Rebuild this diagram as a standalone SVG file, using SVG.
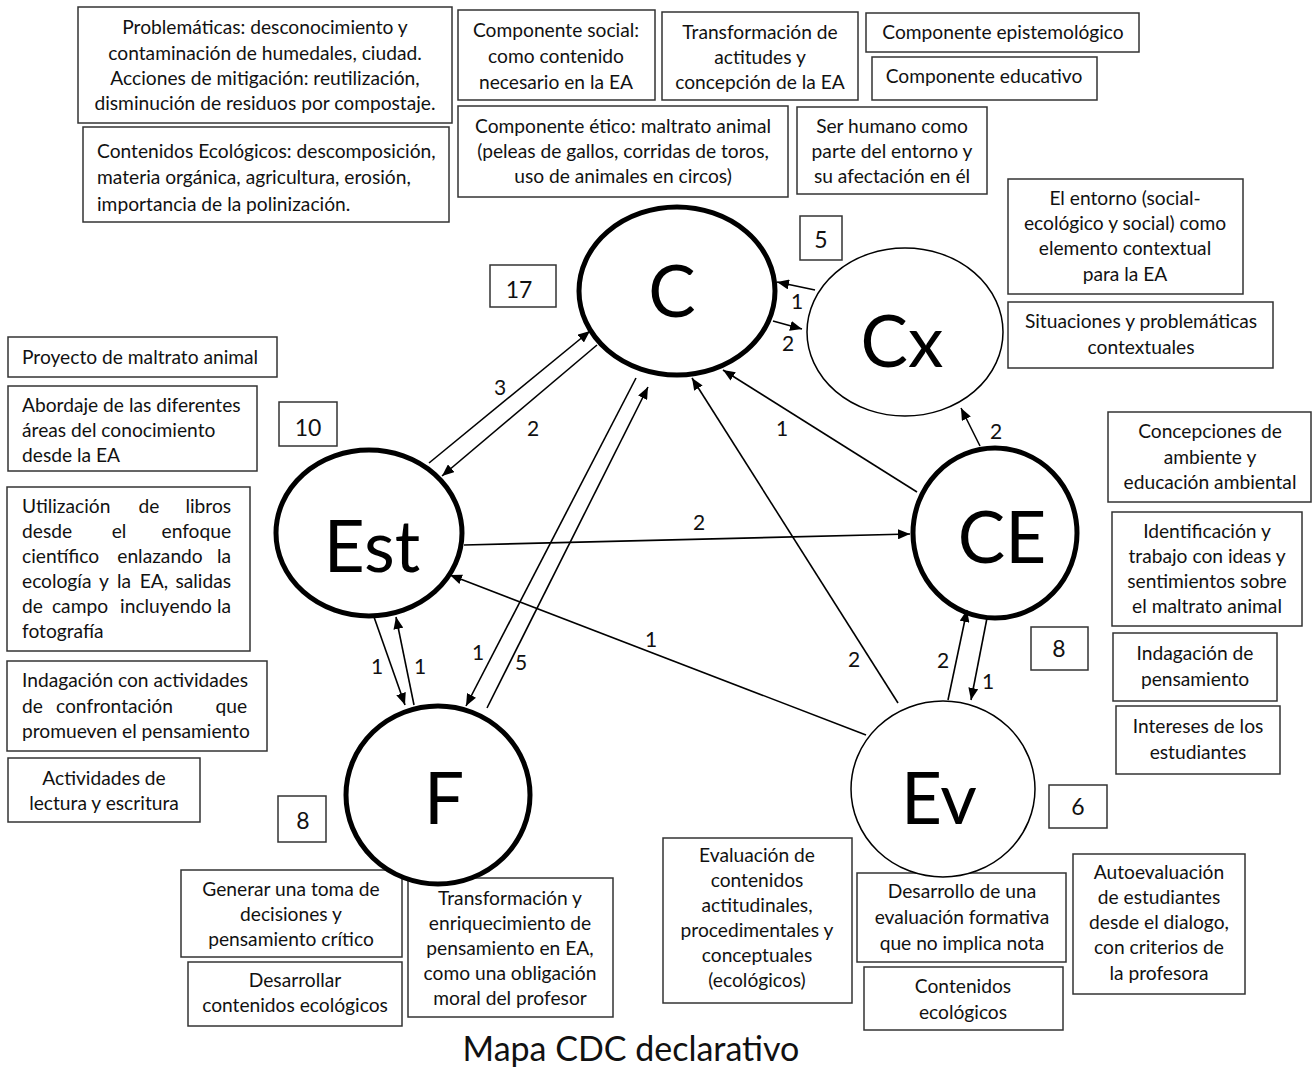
<svg xmlns="http://www.w3.org/2000/svg" width="1312" height="1067" viewBox="0 0 1312 1067">
<style>
.bx{fill:#fff;stroke:#333;stroke-width:1.5}
.t{font-family:Lato,"Liberation Sans",sans-serif;font-size:19.2px;fill:#111}
.c{text-anchor:middle}
.n{font-family:Lato,"Liberation Sans",sans-serif;font-size:23px;fill:#111;text-anchor:middle}
.el{font-family:Lato,"Liberation Sans",sans-serif;font-size:21px;fill:#111;text-anchor:middle}
.big{font-family:Lato,"Liberation Sans",sans-serif;font-size:71px;fill:#000;text-anchor:middle}
.thick{fill:#fff;stroke:#000;stroke-width:5}
.thin{fill:#fff;stroke:#000;stroke-width:1.5}
.ln{stroke:#000;stroke-width:1.6;fill:none;marker-end:url(#ah)}
</style>
<defs>
<marker id="ah" viewBox="0 0 12 10" refX="12" refY="5" markerWidth="12" markerHeight="10" markerUnits="userSpaceOnUse" orient="auto"><path d="M0,0 L12,5 L0,10 z" fill="#000"/></marker>
</defs>
<rect width="1312" height="1067" fill="#fff"/>

<!-- Top boxes -->
<g id="box-problematicas"><rect class="bx" x="78" y="7" width="374" height="116"/>
<text class="t c" x="265"><tspan x="265" y="34">Problemáticas: desconocimiento y</tspan><tspan x="265" y="60">contaminación de humedales, ciudad.</tspan><tspan x="265" y="85">Acciones de mitigación: reutilización,</tspan><tspan x="265" y="110">disminución de residuos por compostaje.</tspan></text></g>
<g id="box-contenidos-ecologicos"><rect class="bx" x="83" y="127" width="366" height="95"/>
<text class="t"><tspan x="97" y="158">Contenidos Ecológicos: descomposición,</tspan><tspan x="97" y="184">materia orgánica, agricultura, erosión,</tspan><tspan x="97" y="211">importancia de la polinización.</tspan></text></g>
<g id="box-social"><rect class="bx" x="458" y="10" width="197" height="90"/>
<text class="t c"><tspan x="556" y="37">Componente social:</tspan><tspan x="556" y="63">como contenido</tspan><tspan x="556" y="89">necesario en la EA</tspan></text></g>
<g id="box-transformacion-actitudes"><rect class="bx" x="662" y="12" width="196" height="88"/>
<text class="t c"><tspan x="760" y="39">Transformación de</tspan><tspan x="760" y="64">actitudes y</tspan><tspan x="760" y="89">concepción de la EA</tspan></text></g>
<g id="box-epistemologico"><rect class="bx" x="866" y="13" width="273" height="39"/>
<text class="t c" x="1003" y="39">Componente epistemológico</text></g>
<g id="box-educativo"><rect class="bx" x="872" y="57" width="225" height="43"/>
<text class="t c" x="984" y="83">Componente educativo</text></g>
<g id="box-etico"><rect class="bx" x="458" y="106" width="330" height="91"/>
<text class="t c"><tspan x="623" y="133">Componente ético: maltrato animal</tspan><tspan x="623" y="158">(peleas de gallos, corridas de toros,</tspan><tspan x="623" y="183">uso de animales en circos)</tspan></text></g>
<g id="box-ser-humano"><rect class="bx" x="797" y="107" width="190" height="87"/>
<text class="t c"><tspan x="892" y="133">Ser humano como</tspan><tspan x="892" y="158">parte del entorno y</tspan><tspan x="892" y="183">su afectación en él</tspan></text></g>
<g id="box-entorno"><rect class="bx" x="1008" y="179" width="235" height="115"/>
<text class="t c"><tspan x="1125" y="205">El entorno (social-</tspan><tspan x="1125" y="230">ecológico y social) como</tspan><tspan x="1125" y="255">elemento contextual</tspan><tspan x="1125" y="281">para la EA</tspan></text></g>
<g id="box-situaciones"><rect class="bx" x="1008" y="302" width="265" height="66"/>
<text class="t c"><tspan x="1141" y="328">Situaciones y problemáticas</tspan><tspan x="1141" y="354">contextuales</tspan></text></g>

<!-- Left boxes -->
<g id="box-proyecto"><rect class="bx" x="8" y="337" width="269" height="40"/>
<text class="t" x="22" y="364">Proyecto de maltrato animal</text></g>
<g id="box-abordaje"><rect class="bx" x="8" y="386" width="249" height="85"/>
<text class="t"><tspan x="22" y="412">Abordaje de las diferentes</tspan><tspan x="22" y="437">áreas del conocimiento</tspan><tspan x="22" y="462">desde la EA</tspan></text></g>
<g id="box-utilizacion"><rect class="bx" x="7" y="487" width="243" height="164"/>
<text class="t">
<tspan x="22" y="513">Utilización</tspan><tspan x="149" y="513" text-anchor="middle">de</tspan><tspan x="236" y="513" text-anchor="end">libros</tspan>
<tspan x="22" y="538">desde</tspan><tspan x="119" y="538" text-anchor="middle">el</tspan><tspan x="236" y="538" text-anchor="end">enfoque</tspan>
<tspan x="22" y="563">científico</tspan><tspan x="160" y="563" text-anchor="middle">enlazando</tspan><tspan x="236" y="563" text-anchor="end">la</tspan>
<tspan x="22" y="588">ecología</tspan><tspan x="104" y="588" text-anchor="middle">y</tspan><tspan x="124" y="588" text-anchor="middle">la</tspan><tspan x="154" y="588" text-anchor="middle">EA,</tspan><tspan x="236" y="588" text-anchor="end">salidas</tspan>
<tspan x="22" y="613">de</tspan><tspan x="80" y="613" text-anchor="middle">campo</tspan><tspan x="166" y="613" text-anchor="middle">incluyendo</tspan><tspan x="236" y="613" text-anchor="end">la</tspan>
<tspan x="22" y="638">fotografía</tspan>
</text></g>
<g id="box-indagacion-confrontacion"><rect class="bx" x="7" y="661" width="260" height="90"/>
<text class="t">
<tspan x="22" y="687">Indagación con actividades</tspan>
<tspan x="22" y="713">de</tspan><tspan x="56" y="713">confrontación</tspan><tspan x="252" y="713" text-anchor="end">que</tspan>
<tspan x="22" y="738">promueven el pensamiento</tspan>
</text></g>
<g id="box-lectura"><rect class="bx" x="8" y="758" width="192" height="64"/>
<text class="t c"><tspan x="104" y="785">Actividades de</tspan><tspan x="104" y="810">lectura y escritura</tspan></text></g>

<!-- Right boxes -->
<g id="box-concepciones"><rect class="bx" x="1108" y="412" width="203" height="90"/>
<text class="t c"><tspan x="1210" y="438">Concepciones de</tspan><tspan x="1210" y="464">ambiente y</tspan><tspan x="1210" y="489">educación ambiental</tspan></text></g>
<g id="box-identificacion"><rect class="bx" x="1112" y="512" width="190" height="114"/>
<text class="t c"><tspan x="1207" y="538">Identificación y</tspan><tspan x="1207" y="563">trabajo con ideas y</tspan><tspan x="1207" y="588">sentimientos sobre</tspan><tspan x="1207" y="613">el maltrato animal</tspan></text></g>
<g id="box-indagacion-pensamiento"><rect class="bx" x="1113" y="633" width="164" height="68"/>
<text class="t c"><tspan x="1195" y="660">Indagación de</tspan><tspan x="1195" y="686">pensamiento</tspan></text></g>
<g id="box-intereses"><rect class="bx" x="1116" y="706" width="164" height="68"/>
<text class="t c"><tspan x="1198" y="733">Intereses de los</tspan><tspan x="1198" y="759">estudiantes</tspan></text></g>

<!-- Bottom boxes -->
<g id="box-generar"><rect class="bx" x="181" y="870" width="221" height="87"/>
<text class="t c"><tspan x="291" y="896">Generar una toma de</tspan><tspan x="291" y="921">decisiones y</tspan><tspan x="291" y="946">pensamiento crítico</tspan></text></g>
<g id="box-desarrollar"><rect class="bx" x="188" y="962" width="214" height="64"/>
<text class="t c"><tspan x="295" y="987">Desarrollar</tspan><tspan x="295" y="1012">contenidos ecológicos</tspan></text></g>
<g id="box-transformacion-pensamiento"><rect class="bx" x="408" y="878" width="205" height="139"/>
<text class="t c"><tspan x="510" y="905">Transformación y</tspan><tspan x="510" y="930">enriquecimiento de</tspan><tspan x="510" y="955">pensamiento en EA,</tspan><tspan x="510" y="980">como una obligación</tspan><tspan x="510" y="1005">moral del profesor</tspan></text></g>
<g id="box-evaluacion-contenidos"><rect class="bx" x="663" y="838" width="189" height="165"/>
<text class="t c"><tspan x="757" y="862">Evaluación de</tspan><tspan x="757" y="887">contenidos</tspan><tspan x="757" y="912">actitudinales,</tspan><tspan x="757" y="937">procedimentales y</tspan><tspan x="757" y="962">conceptuales</tspan><tspan x="757" y="987">(ecológicos)</tspan></text></g>
<g id="box-evaluacion-formativa"><rect class="bx" x="857" y="873" width="209" height="89"/>
<text class="t c"><tspan x="962" y="898">Desarrollo de una</tspan><tspan x="962" y="924">evaluación formativa</tspan><tspan x="962" y="950">que no implica nota</tspan></text></g>
<g id="box-contenidos-ecologicos-ev"><rect class="bx" x="864" y="967" width="199" height="63"/>
<text class="t c"><tspan x="963" y="993">Contenidos</tspan><tspan x="963" y="1019">ecológicos</tspan></text></g>
<g id="box-autoevaluacion"><rect class="bx" x="1073" y="854" width="172" height="140"/>
<text class="t c"><tspan x="1159" y="879">Autoevaluación</tspan><tspan x="1159" y="904">de estudiantes</tspan><tspan x="1159" y="929">desde el dialogo,</tspan><tspan x="1159" y="954">con criterios de</tspan><tspan x="1159" y="980">la profesora</tspan></text></g>

<!-- Count boxes -->
<g id="count-C"><rect class="bx" x="490" y="265" width="66" height="42"/><text class="n" x="519" y="298">17</text></g>
<g id="count-Cx"><rect class="bx" x="800" y="216" width="42" height="44"/><text class="n" x="821" y="248">5</text></g>
<g id="count-Est"><rect class="bx" x="279" y="402" width="58" height="44"/><text class="n" x="308" y="436">10</text></g>
<g id="count-F"><rect class="bx" x="278" y="796" width="48" height="46"/><text class="n" x="303" y="829">8</text></g>
<g id="count-CE"><rect class="bx" x="1031" y="627" width="57" height="43"/><text class="n" x="1059" y="657">8</text></g>
<g id="count-Ev"><rect class="bx" x="1049" y="785" width="58" height="43"/><text class="n" x="1078" y="815">6</text></g>

<!-- Nodes -->
<g id="node-C"><ellipse class="thick" cx="677" cy="291" rx="98" ry="84"/><text class="big" x="672" y="317">C</text></g>
<g id="node-Cx"><ellipse class="thin" cx="905" cy="332" rx="98" ry="84"/><text class="big" x="902" y="367">Cx</text></g>
<g id="node-Est"><ellipse class="thick" cx="369" cy="533" rx="93" ry="83"/><text class="big" x="372" y="572">Est</text></g>
<g id="node-CE"><ellipse class="thick" cx="995" cy="533" rx="82" ry="85"/><text class="big" x="1002" y="563">CE</text></g>
<g id="node-F"><ellipse class="thick" cx="438" cy="795" rx="92" ry="89"/><text class="big" x="444" y="824">F</text></g>
<g id="node-Ev"><ellipse class="thin" cx="943" cy="789" rx="92" ry="88"/><text class="big" x="939" y="824">Ev</text></g>

<!-- Connectors -->
<g id="connectors">
<line class="ln" x1="429" y1="463" x2="590" y2="331"/>
<line class="ln" x1="597" y1="345" x2="442" y2="476"/>
<line class="ln" x1="636" y1="378" x2="466" y2="706"/>
<line class="ln" x1="487" y1="708" x2="648" y2="387"/>
<line class="ln" x1="815" y1="290" x2="777" y2="282"/>
<line class="ln" x1="773" y1="321" x2="802" y2="329"/>
<line class="ln" x1="917" y1="492" x2="723" y2="370"/>
<line class="ln" x1="898" y1="703" x2="692" y2="378"/>
<line class="ln" x1="464" y1="545" x2="910" y2="534"/>
<line class="ln" x1="866" y1="735" x2="450" y2="575"/>
<line class="ln" x1="374" y1="617" x2="405" y2="705"/>
<line class="ln" x1="414" y1="705" x2="396" y2="617"/>
<line class="ln" x1="980" y1="446" x2="961" y2="408"/>
<line class="ln" x1="948" y1="700" x2="967" y2="610"/>
<line class="ln" x1="987" y1="618" x2="971" y2="700"/>
</g>
<g id="connector-labels">
<text class="el" x="500" y="395">3</text>
<text class="el" x="533" y="436">2</text>
<text class="el" x="478" y="660">1</text>
<text class="el" x="521" y="670">5</text>
<text class="el" x="797" y="309">1</text>
<text class="el" x="788" y="351">2</text>
<text class="el" x="782" y="436">1</text>
<text class="el" x="854" y="667">2</text>
<text class="el" x="699" y="530">2</text>
<text class="el" x="651" y="647">1</text>
<text class="el" x="377" y="674">1</text>
<text class="el" x="420" y="674">1</text>
<text class="el" x="996" y="439">2</text>
<text class="el" x="943" y="668">2</text>
<text class="el" x="988" y="689">1</text>
</g>

<text id="title" x="631" y="1061" font-family="Lato,'Liberation Sans',sans-serif" font-size="34" fill="#111" text-anchor="middle">Mapa CDC declarativo</text>
</svg>
